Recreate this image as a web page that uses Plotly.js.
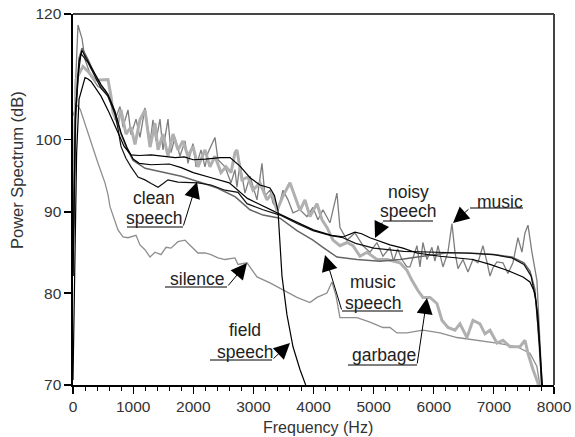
<!DOCTYPE html>
<html><head><meta charset="utf-8">
<script src="https://cdn.plot.ly/plotly-3.0.1.min.js"></script>
<style>html,body{margin:0;padding:0;background:#fff}#chart{width:575px;height:437px}</style>
</head><body><div id="chart"></div>
<script>
// ---- data (Hz, dB) ----
const xTicks = [0,1000,2000,3000,4000,5000,6000,7000,8000];
const yTicks = [70,80,90,100,120];

const silenceHz = [0,60,120,250,416,532,582,615,748,831,915,1048,1114,1197,1281,1364,1463,1547,1630,1746,1863,1912,1996,2079,2195,2295,2411,2528,2694,2744,2894,3060,3276,3526,3725,3941,4058,4224,4307,4374,4440,4723,4939,5155,5272,5388,5554,5820,6103,6386,6719,7051,7384,7600,7716,7766,7790];
const silenceDb = [103.5,105.2,104.5,100.9,96.6,93.9,92.3,90.7,87.7,86.8,86.7,87.0,85.8,85.2,84.3,84.9,84.6,85.5,85.4,86.2,86.4,86.0,85.4,84.8,84.8,84.6,84.2,84.0,84.2,83.4,83.6,81.9,81.2,80.3,79.5,78.9,79.5,80.0,81.3,79.7,77.2,77.2,76.7,76.1,76.1,75.5,75.5,75.8,75.5,75.0,74.7,74.4,74.0,73.3,71.9,70.2,69.0];

const musicHz = [0,40,83,150,200,300,416,532,632,698,782,831,915,965,1048,1114,1197,1281,1330,1380,1447,1497,1580,1630,1696,1779,1863,1912,1996,2046,2129,2195,2245,2361,2411,2528,2628,2694,2727,2777,2860,2944,3060,3143,3193,3276,3326,3409,3492,3576,3659,3775,3891,3991,4074,4157,4274,4390,4440,4557,4690,4823,4939,5055,5155,5272,5330,5400,5470,5554,5604,5721,5771,5820,5887,5970,6020,6070,6153,6236,6303,6353,6403,6486,6569,6652,6735,6818,6885,6935,6985,7051,7151,7234,7317,7400,7467,7517,7567,7633,7716,7766,7800,7830];
const musicDb = [84,108,118.1,115.8,112.3,109.6,108.0,107.5,105.4,102.9,104.9,101.8,104.4,100.7,103.0,100.3,104.7,99.4,102.9,99.8,103.0,98.5,103.0,98.1,100.3,97.6,99.8,96.6,99.4,96.1,98.5,96.1,98.1,100.3,97.1,96.1,93.9,95.7,93.3,96.6,92.5,94.8,91.6,96.6,92.1,92.9,91.2,90.2,92.9,91.6,89.9,90.3,89.4,90.6,89.0,90.3,88.6,92.5,88.0,86.4,87.3,85.7,84.9,86.1,84.4,85.5,83.8,85.3,84.0,83.1,83.1,85.7,83.1,86.1,84.0,85.5,83.8,85.7,83.1,84.9,88.5,84.9,82.9,84.0,82.5,84.0,83.6,85.7,83.7,82.0,83.0,83.7,83.6,82.3,83.6,86.7,84.9,87.3,88.3,84.9,81.5,74.1,70.2,68.5];

const garbageHz = [0,30,50,166,250,366,466,582,632,665,748,798,881,965,1031,1114,1197,1281,1364,1414,1497,1580,1663,1746,1829,1912,1996,2079,2195,2278,2361,2461,2544,2628,2694,2727,2810,2910,2993,3110,3226,3309,3392,3492,3609,3692,3775,3858,3941,4058,4141,4224,4324,4440,4557,4657,4773,4889,5055,5222,5438,5554,5637,5737,5820,5937,6053,6136,6236,6353,6436,6552,6652,6768,6852,6935,7051,7151,7267,7434,7517,7567,7650,7733,7760];
const garbageDb = [88,104,109.1,111.2,110.4,109.0,109.0,109.1,106.5,104.0,102.4,104.4,100.8,101.8,99.3,102.9,104.4,98.9,102.4,98.5,100.8,97.6,100.8,98.5,99.8,97.6,99.0,96.1,98.5,96.1,97.6,95.3,96.1,95.3,98.1,98.5,94.3,94.7,92.9,93.9,91.6,92.5,90.2,92.1,93.9,92.1,90.2,91.6,89.4,91.1,89.0,88.0,86.4,85.7,86.1,85.7,84.4,84.9,84.0,84.0,83.6,82.7,81.5,80.3,79.5,79.5,78.8,76.9,76.1,75.8,76.5,75.0,76.9,76.5,75.4,75.8,74.4,74.7,74.0,74.0,74.7,73.3,71.6,70.2,69.0];

const musicSpeechHz = [0,40,100,150,250,366,466,582,698,798,900,1000,1200,1500,1800,2100,2400,2700,2944,3160,3442,3725,3991,4157,4390,4723,5105,5438,5800,6200,6600,7000,7300,7500,7600,7680,7730,7780,7810];
const musicSpeechDb = [86,103,112.5,114.2,112.3,109.8,108.0,106.5,103.8,100.8,98.6,97.0,95.9,95.3,94.8,94.0,93.2,92.0,90.3,89.6,89.2,87.6,86.4,85.5,84.3,84.0,83.8,84.0,84.4,84.8,84.8,84.6,84.3,83.6,82.6,80.5,76.5,72.0,69.0];

const cleanHz = [0,40,90,133,250,366,466,582,698,748,798,880,965,1081,1197,1300,1414,1500,1580,1746,2079,2295,2528,2744,2894,3160,3442,3725,3991,4274,4490,4700,5000,5500,6000,6500,7000,7300,7500,7620,7700,7760,7800];
const cleanDb = [82,103,110,113.3,111.8,109.5,107.7,106.5,103.8,101.6,99.0,97.3,96.1,94.7,94.3,93.8,93.3,93.8,94.3,94.0,93.9,93.6,92.9,92.6,91.1,90.3,89.6,88.5,87.6,87.0,86.7,86.0,85.4,85.0,84.9,84.8,84.6,84.2,83.4,82.0,79.0,74.0,69.0];

const noisyHz = [0,40,100,150,250,366,466,582,698,798,900,1000,1100,1300,1600,1800,2000,2300,2600,2900,3200,3500,3800,4000,4300,4490,4690,4800,4939,5055,5272,5488,5721,6103,6652,6935,7217,7484,7600,7683,7733,7800,7820];
const noisyDb = [82,104,112,113.8,112,110,108.3,106.8,104.2,101.0,98.8,97.2,96.6,96.4,96.5,96.0,95.3,94.6,93.9,91.8,90.6,89.5,88.4,87.7,87.0,86.8,87.4,87.2,86.7,86.4,85.8,85.4,84.8,84.4,84.0,83.4,82.7,81.9,81.3,80.0,77.3,70.5,69.0];

const fieldHz = [0,30,60,100,200,250,300,466,600,750,850,965,1100,1300,1500,1700,1850,2000,2200,2450,2611,2777,2944,3110,3276,3350,3409,3476,3559,3659,3775,3858,3900];
const fieldDb = [70.5,85,98,106,109.4,109.2,108.8,106.5,104,101,99,97.8,97.7,97.8,97.6,97.4,97.5,97.1,97.2,97.4,97.4,96.2,94.6,93.6,93.2,92.2,90.2,82.0,77.5,74.0,71.6,70.1,69.5];

const seriesNames = ['silence','music','garbage','music speech','clean speech','noisy speech','field speech'];
const seriesX = [silenceHz, musicHz, garbageHz, musicSpeechHz, cleanHz, noisyHz, fieldHz];
const seriesY = [silenceDb, musicDb, garbageDb, musicSpeechDb, cleanDb, noisyDb, fieldDb];
const seriesColor = ['#8e8e8e','#7e7e7e','#b0b0b0','#666666','#111111','#000000','#000000'];
const seriesWidth = [1.3,1.3,3,1.5,1.2,1.2,1.2];

const traces = seriesNames.map((n,i)=>({
  type:'scatter', mode:'lines', name:n, x:seriesX[i], y:seriesY[i],
  line:{color:seriesColor[i], width:seriesWidth[i]}, showlegend:false, hoverinfo:'skip'
}));

// ---- label layout (pixel positions -> paper) ----
const L=73, T=14, W=481, H=371;
const px = x => (x-L)/W;
const py = y => (T+H-y)/H;
const FAM = 'Liberation Sans, Arial, sans-serif';
const labelFont = {family:FAM, size:17.5, color:'#222'};
const words = [
  ['clean',154,198],['speech',154,218],['silence',197,279],['field',245,330],['speech',245,352],
  ['noisy',408,192],['speech',408,211],['music',500,202],['music',373,282],['speech',373,303],['garbage',384,355]
];
const underlines = [[127,183,227],[165,227,287],[210,272,360],[383,433,221],[470,523,208],[342,403,311],[348,417,365]];
const arrows = [ // tail x,y -> tip x,y
  [183,227,197,182],[227,287,247,263],[272,360,290,343],[383,221,375,238],[470,208,453,223],[342,311,325,255],[417,365,427,298]
];
const annotations = words.map(w=>({xref:'paper',yref:'paper',x:px(w[1]),y:py(w[2]),text:w[0],showarrow:false,
  xanchor:'center',yanchor:'middle',font:labelFont}));
arrows.forEach(a=>annotations.push({xref:'paper',yref:'paper',x:px(a[2]),y:py(a[3]),text:'',showarrow:true,
  ax:a[0]-a[2], ay:a[1]-a[3], arrowhead:2, arrowsize:3.2, arrowwidth:1, arrowcolor:'#000', standoff:0, startstandoff:0}));
annotations.push({xref:'paper',yref:'paper',x:px(17),y:py(170),text:'Power Spectrum (dB)',textangle:-90,showarrow:false,
  xanchor:'center',yanchor:'middle',font:{family:FAM,size:16.5,color:'#333'}});
annotations.push({xref:'paper',yref:'paper',x:px(318),y:py(427),text:'Frequency (Hz)',showarrow:false,
  xanchor:'center',yanchor:'middle',font:{family:FAM,size:16,color:'#333'}});
const shapes = underlines.map(u=>({type:'line',xref:'paper',yref:'paper',x0:px(u[0]),x1:px(u[1]),y0:py(u[2]),y1:py(u[2]),
  line:{color:'#000',width:1}}));
// top and right frame lines (dark grey, as in the reference)
shapes.push({type:'line',xref:'paper',yref:'paper',x0:0,x1:1,y0:1,y1:1,line:{color:'#444',width:2}});
shapes.push({type:'line',xref:'paper',yref:'paper',x0:1,x1:1,y0:0,y1:1,line:{color:'#444',width:2}});

const tickFont = {family:FAM, size:15.5, color:'#333'};
const layout = {
  width:575, height:437, margin:{l:L, r:575-L-W, t:T, b:437-T-H},
  paper_bgcolor:'#fff', plot_bgcolor:'#fff',
  xaxis:{range:[0,8000], tickvals:xTicks, ticktext:xTicks.map(String), ticks:'outside', ticklen:7, tickwidth:1.2,
    tickcolor:'#000', showline:true, linecolor:'#000', linewidth:1.6, mirror:false, showgrid:false, zeroline:false,
    tickfont:tickFont, minor:{dtick:200, tick0:0, ticks:'outside', ticklen:4, tickwidth:1, tickcolor:'#000', showgrid:false}},
  yaxis:{type:'log', range:[Math.log10(70), Math.log10(120)], tickvals:yTicks, ticktext:yTicks.map(String),
    ticks:'outside', ticklen:7, tickwidth:1.2, tickcolor:'#000', showline:true, linecolor:'#000', linewidth:1.6,
    mirror:false, showgrid:false, zeroline:false, tickfont:tickFont},
  annotations:annotations, shapes:shapes
};
Plotly.newPlot('chart', traces, layout, {staticPlot:true, displayModeBar:false});
</script></body></html>
